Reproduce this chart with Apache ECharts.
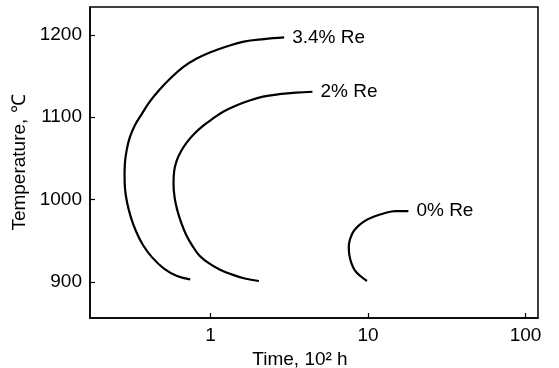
<!DOCTYPE html>
<html>
<head>
<meta charset="utf-8">
<script src="https://cdn.jsdelivr.net/npm/echarts@6/dist/echarts.min.js"></script>
<style>
html,body{margin:0;padding:0;background:#fff;}
#c{width:559px;height:368px;}
</style>
</head>
<body>
<div id="c"></div>
<script>
// Time (10^2 h) and temperature (°C) read along each C-curve, from the bottom end to the labelled top end
var re34Time = [0.744, 0.614, 0.507, 0.425, 0.372, 0.336, 0.312, 0.296, 0.287, 0.285, 0.287, 0.294, 0.307, 0.331, 0.367, 0.412, 0.478, 0.562, 0.671, 0.813, 1.0, 1.266, 1.627, 2.187, 2.938];
var re34Temp = [903, 907, 916, 930, 945, 962, 979, 996, 1013, 1030, 1046, 1060, 1075, 1090, 1104, 1119, 1134, 1148, 1161, 1171, 1179, 1186, 1192, 1195, 1197];
var re2Time = [2.031, 1.652, 1.363, 1.142, 0.971, 0.850, 0.767, 0.702, 0.652, 0.614, 0.592, 0.583, 0.588, 0.610, 0.652, 0.712, 0.790, 0.889, 1.030, 1.212, 1.446, 1.752, 2.154, 2.729, 3.507, 4.441];
var re2Temp = [901, 904, 909, 915, 923, 932, 944, 957, 972, 988, 1003, 1019, 1034, 1047, 1059, 1070, 1080, 1089, 1098, 1107, 1114, 1120, 1125, 1128, 1130, 1131];
var re0Time = [9.854, 8.95, 8.254, 7.838, 7.610, 7.554, 7.700, 8.073, 8.695, 9.567, 10.85, 12.57, 14.90, 18.05];
var re0Temp = [901, 907, 914, 923, 933, 943, 952, 961, 968, 974, 979, 983, 986, 986];
var seriesNames = ['3.4% Re', '2% Re', '0% Re'];
var xTickLabels = ['1', '10', '100'];
var yTickLabels = ['900', '1000', '1100', '1200'];

function pairs(xs, ys) { return xs.map(function (v, i) { return [v, ys[i]]; }); }
var sets = [pairs(re34Time, re34Temp), pairs(re2Time, re2Temp), pairs(re0Time, re0Temp)];
var FONT = 'Liberation Sans';
var chart = echarts.init(document.getElementById('c'), null, {renderer: 'canvas'});
var series = sets.map(function (d, i) {
  return {
    type: 'line', name: seriesNames[i], data: d,
    smooth: 0.4, showSymbol: false, symbol: 'none',
    lineStyle: {color: '#000', width: 2.2},
    endLabel: {show: true, formatter: '{a}', color: '#000', fontSize: 19, fontFamily: FONT, distance: 8},
    animation: false
  };
});
chart.setOption({
  animation: false,
  grid: {left: 90, right: 21, top: 7, bottom: 50, containLabel: false, outerBoundsMode: 'none',
    show: true, borderColor: '#000', borderWidth: 1.5},
  xAxis: {
    type: 'log', logBase: 10, min: 0.172, max: 120,
    name: 'Time, 10² h', nameLocation: 'middle', nameGap: 24,
    nameTextStyle: {color: '#000', fontSize: 19, fontFamily: FONT, padding: [0, 28, 0, 0]},
    axisLine: {lineStyle: {color: '#000', width: 1.5}},
    axisTick: {inside: true, length: 5, lineStyle: {color: '#000', width: 1.2}},
    splitLine: {show: false},
    axisLabel: {color: '#000', fontSize: 19, fontFamily: FONT, margin: 8, showMinLabel: false, showMaxLabel: false,
      formatter: function (v) { var k = Math.round(Math.log10(v)); return (k >= 0 && k < xTickLabels.length && Math.abs(Math.log10(v) - k) < 1e-6) ? xTickLabels[k] : ''; }}
  },
  yAxis: {
    type: 'value', min: 856, max: 1234,
    name: 'Temperature, \u2103', nameLocation: 'middle', nameGap: 55, nameRotate: 90,
    nameTextStyle: {color: '#000', fontSize: 19, fontFamily: FONT},
    axisLine: {show: true, lineStyle: {color: '#000', width: 1.5}},
    axisTick: {show: true, inside: true, length: 5, lineStyle: {color: '#000', width: 1.2}},
    splitLine: {show: false},
    axisLabel: {color: '#000', fontSize: 19, fontFamily: FONT, margin: 8, showMinLabel: false, showMaxLabel: false,
      formatter: function (v) { var s = String(Math.round(v)); return yTickLabels.indexOf(s) >= 0 ? s : ''; }}
  },
  series: series
});
</script>
</body>
</html>
